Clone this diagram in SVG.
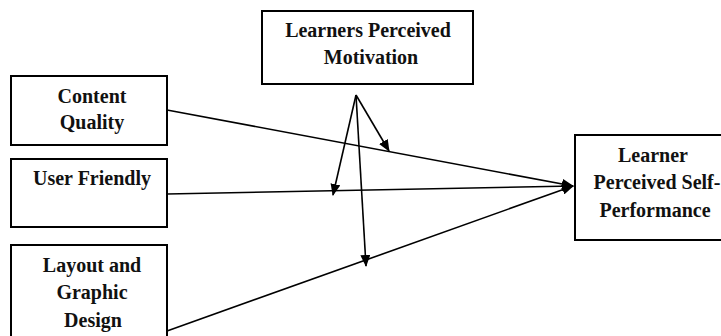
<svg xmlns="http://www.w3.org/2000/svg" width="721" height="336" viewBox="0 0 721 336">
<style>
.box{fill:#fff;stroke:#000;stroke-width:2}
.lbl{font-family:"Liberation Serif","Times New Roman",serif;font-weight:bold;font-size:20px;fill:#111;text-anchor:middle}
.edge{stroke:#000;stroke-width:1.6;fill:none;marker-end:url(#ah)}
</style>
<defs>
<marker id="ah" markerWidth="12" markerHeight="10" refX="11" refY="5" orient="auto" markerUnits="userSpaceOnUse">
<path d="M0,0 L12,5 L0,10 Z" fill="#000"/>
</marker>
</defs>
<rect width="721" height="336" fill="#fff"/>
<g id="connectors">
<line class="edge" x1="167" y1="110" x2="573" y2="186"/>
<line class="edge" x1="167" y1="194" x2="573" y2="186"/>
<line class="edge" x1="167" y1="331" x2="573" y2="186"/>
<line class="edge" x1="356" y1="95" x2="389" y2="151"/>
<line class="edge" x1="356" y1="95" x2="333" y2="195"/>
<line class="edge" x1="356" y1="95" x2="366" y2="266"/>
</g>
<g id="motivation">
<rect class="box" x="262" y="11" width="211" height="73"/>
<text class="lbl" x="368" y="37">Learners Perceived</text>
<text class="lbl" x="371" y="64">Motivation</text>
</g>
<g id="content-quality">
<rect class="box" x="11" y="76" width="156" height="69"/>
<text class="lbl" x="92" y="103">Content</text>
<text class="lbl" x="92" y="129">Quality</text>
</g>
<g id="user-friendly">
<rect class="box" x="11" y="159" width="156" height="68"/>
<text class="lbl" x="92" y="185">User Friendly</text>
</g>
<g id="layout">
<rect class="box" x="11" y="245" width="156" height="100"/>
<text class="lbl" x="92" y="272">Layout and</text>
<text class="lbl" x="92" y="299">Graphic</text>
<text class="lbl" x="93" y="327">Design</text>
</g>
<g id="performance">
<rect class="box" x="575" y="135" width="150" height="105"/>
<text class="lbl" x="653" y="162">Learner</text>
<text class="lbl" x="657" y="189">Perceived Self-</text>
<text class="lbl" x="655" y="217">Performance</text>
</g>
</svg>
